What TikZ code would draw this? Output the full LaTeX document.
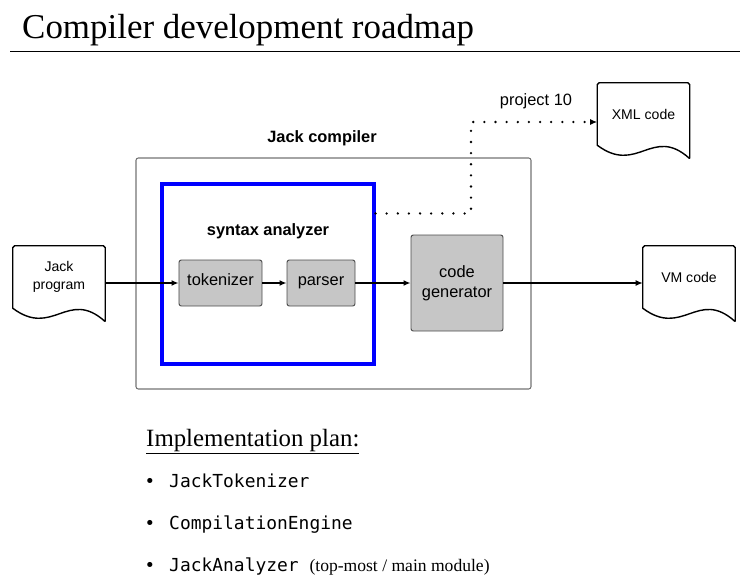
\documentclass[tikz,border=0pt]{standalone}
\usepackage{fontspec}
\setmainfont{Liberation Serif}
\setsansfont{Liberation Sans}
\newfontfamily\codefont{DejaVu Sans Mono}
\usetikzlibrary{arrows.meta}
\tikzset{>={Latex[length=6pt,width=5pt]}}
\tikzset{
  docnode/.style={minimum width=2.76cm, minimum height=1.86cm, inner sep=0pt,
    align=center, font=\sffamily\fontsize{12}{15}\selectfont},
  docline/.style={line width=1.2pt, line join=round},
  greybox/.style={draw=black!70, fill=gray!45, line width=0.8pt, rounded corners=2pt,
    align=center, font=\sffamily\fontsize{14}{17}\selectfont},
  oneline/.style={text height=1.55ex, text depth=0.45ex},
  flow/.style={->, line width=1.1pt},
  dotline/.style={-{Latex[length=6pt,width=5pt]}, line width=2.2pt, line cap=round, dash pattern=on 0pt off 9.5pt},
  boldlabel/.style={font=\sffamily\bfseries\fontsize{14}{17}\selectfont},
  itemtext/.style={anchor=base west, inner sep=0pt, font=\codefont\fontsize{15.3}{18}\selectfont}
}
% wavy bottom of a document node
\newcommand\docoutline[1]{%
  \draw[docline] (#1.south east) ++(0,13) [rounded corners=1.5pt] -- (#1.north east)
    -- (#1.north west) [sharp corners] -- (#1.south west)
    .. controls +(40,30) and +(-37,-33) .. ++(92,13) -- cycle;}

\begin{document}
\begin{tikzpicture}[x=0.03cm, y=-0.03cm]
    \useasboundingbox (0,0) rectangle (750,588);
    \node[anchor=base west, inner sep=0pt, font=\fontsize{29.8}{33}\selectfont] (title) at (22,38) {Compiler development roadmap};
    \draw[line width=1.6pt] (10,51.5) -- (740,51.5);

    \node[draw=black!55, line width=0.9pt, rounded corners=2pt, minimum width=11.85cm, minimum height=6.93cm] (compiler) at (333.5,273.5) {};
    \node[boldlabel] (compilerlabel) at (322,138) {Jack compiler};
    \node[draw=blue, line width=2.6pt, minimum width=6.36cm, minimum height=5.4cm] (syntax) at (268,274) {};
    \node[boldlabel] (syntaxlabel) at (268,231) {syntax analyzer};

    \node[greybox, oneline, minimum width=2.49cm, minimum height=1.38cm] (tok) at (220.5,283) {tokenizer};
    \node[greybox, oneline, minimum width=2.04cm, minimum height=1.38cm] (parser) at (321,283) {parser};
    \node[greybox, minimum width=2.76cm, minimum height=2.88cm] (codegen) at (457,283) {code\\generator};

    \node[docnode] (jack) at (59,277) {Jack\\program};
    \node[docnode] (vm) at (689,277) {VM code};
    \node[docnode] (xml) at (643.5,114) {XML code};
    \docoutline{jack}
    \docoutline{vm}
    \docoutline{xml}
    \node[font=\sffamily\fontsize{14}{17}\selectfont] (proj) at (536,101) {project 10};

    \draw[flow] (jack.east |- tok.west) -- (tok.west);
    \draw[flow] (tok.east) -- (parser.west);
    \draw[flow] (parser.east) -- (codegen.west);
    \draw[flow] (codegen.east) -- (vm.west |- codegen.east);
    \coordinate (turn) at (471,122);
    \draw[dotline] ([yshift=-0.93cm]syntax.north east) -| (turn) -- (xml.west |- turn);

    \node[anchor=base west, inner sep=0pt, font=\fontsize{21.2}{24}\selectfont] (plan) at (146,446) {\underline{Implementation plan:}};
    \node[itemtext] (itema) at (169,487) {JackTokenizer};
    \node[itemtext] (itemb) at (169,529) {CompilationEngine};
    \node[itemtext] (itemc) at (169,571) {JackAnalyzer \rmfamily\fontsize{15}{18}\selectfont(top-most / main module)};
    \foreach \it in {itema,itemb,itemc}
      \node[anchor=base, inner sep=0pt, font=\codefont\fontsize{15}{18}\selectfont] at ([xshift=-0.57cm]\it.base west) {•};
\end{tikzpicture}
\end{document}
